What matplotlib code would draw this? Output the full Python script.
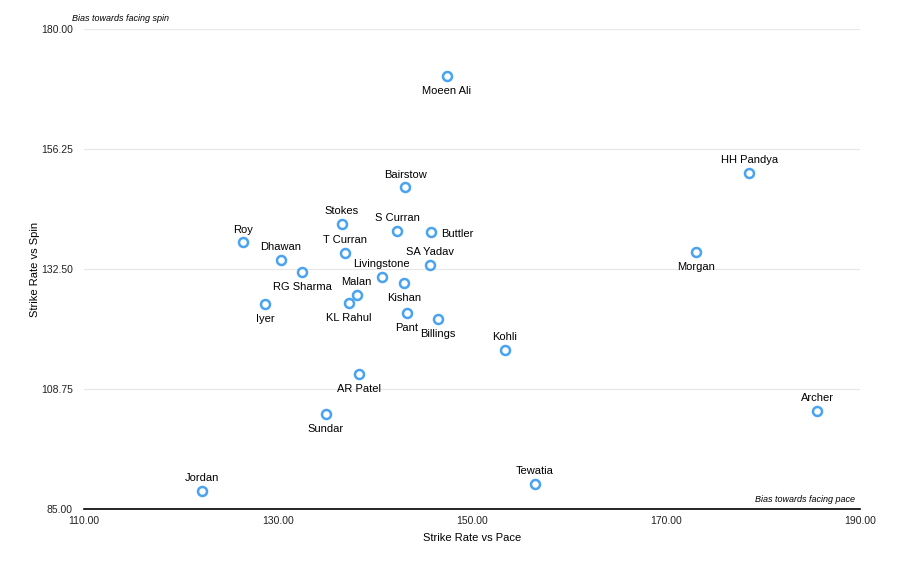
import matplotlib
matplotlib.use('Agg')
import matplotlib.pyplot as plt
from matplotlib.ticker import FormatStrFormatter

plt.rcParams['font.family'] = ['Liberation Sans', 'DejaVu Sans']
plt.rcParams['font.size'] = 8

players = ['Moeen Ali', 'HH Pandya', 'Bairstow', 'Stokes', 'S Curran', 'Buttler',
           'Roy', 'T Curran', 'Morgan', 'Dhawan', 'SA Yadav', 'RG Sharma',
           'Livingstone', 'Kishan', 'Malan', 'Iyer', 'KL Rahul', 'Pant',
           'Billings', 'Kohli', 'AR Patel', 'Archer', 'Sundar', 'Tewatia', 'Jordan']
sr_pace = [147.4, 178.6, 143.1, 136.6, 142.3, 145.8,
           126.4, 136.9, 173.1, 130.3, 145.7, 132.5,
           140.7, 143.0, 138.1, 128.7, 137.3, 143.3,
           146.5, 153.4, 138.4, 185.6, 134.9, 156.5, 122.2]
sr_spin = [170.7, 151.5, 148.7, 141.4, 140.0, 139.8,
           137.8, 135.7, 135.9, 134.3, 133.3, 131.9,
           130.9, 129.7, 127.4, 125.6, 125.8, 123.8,
           122.6, 116.5, 111.7, 104.4, 103.8, 90.0, 88.6]
# label placement: above / below / right
placement = ['b', 'a', 'a', 'a', 'a', 'r',
             'a', 'a', 'b', 'a', 'a', 'b',
             'a', 'b', 'a', 'b', 'b', 'b',
             'b', 'a', 'b', 'a', 'b', 'a', 'a']

fig = plt.figure(figsize=(9.06, 5.62), dpi=100)
ax = fig.add_axes([0.0927, 0.0943, 0.8565, 0.8541])

ax.scatter(sr_pace, sr_spin, s=42, facecolors='white', edgecolors='#4aa3f0',
           linewidths=1.8, zorder=3)

for name, x, y, p in zip(players, sr_pace, sr_spin, placement):
    if p == 'a':
        ax.annotate(name, (x, y), xytext=(0, 5.5), textcoords='offset points',
                    ha='center', va='bottom', fontsize=8)
    elif p == 'b':
        ax.annotate(name, (x, y), xytext=(0, -7), textcoords='offset points',
                    ha='center', va='top', fontsize=8)
    else:
        ax.annotate(name, (x, y), xytext=(7, -1.5), textcoords='offset points',
                    ha='left', va='center', fontsize=8)

ax.set_xlim(110, 190)
ax.set_ylim(85, 180)
ax.set_xticks([110, 130, 150, 170, 190])
ax.set_yticks([85, 108.75, 132.5, 156.25, 180])
ax.xaxis.set_major_formatter(FormatStrFormatter('%.2f'))
ax.yaxis.set_major_formatter(FormatStrFormatter('%.2f'))
ax.grid(axis='y', color='#e6e6e6', linewidth=0.8)
ax.set_axisbelow(True)
for s in ['top', 'right', 'left']:
    ax.spines[s].set_visible(False)
ax.spines['bottom'].set_color('black')
ax.spines['bottom'].set_linewidth(1.2)
ax.tick_params(axis='both', length=0, labelsize=7.5, colors='#222222')
ax.tick_params(axis='y', pad=8)
ax.tick_params(axis='x', pad=5)

ax.set_xlabel('Strike Rate vs Pace', fontsize=8, labelpad=5)
ax.set_ylabel('Strike Rate vs Spin', fontsize=8, labelpad=1)

ax.text(-0.015, 1.012, 'Bias towards facing spin', transform=ax.transAxes,
        fontsize=6.5, style='italic', ha='left', va='bottom')
ax.text(0.994, 0.011, 'Bias towards facing pace', transform=ax.transAxes,
        fontsize=6.5, style='italic', ha='right', va='bottom')

fig.savefig('out.png', dpi=100)
